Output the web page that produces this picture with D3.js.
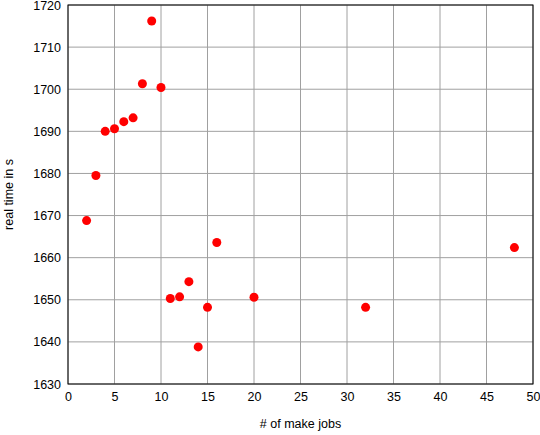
<!DOCTYPE html>
<html><head><meta charset="utf-8">
<script src="https://cdn.jsdelivr.net/npm/d3@7"></script>
<style>body{margin:0;background:#fff}text{font-family:"Liberation Sans",Arial,sans-serif}</style>
</head><body><svg id="c" width="540" height="435"></svg>
<script>
const jobs=[2,3,4,5,6,7,8,9,10,11,12,13,14,15,16,20,32,48];
const times=[1668.8,1679.5,1690,1690.6,1692.3,1693.2,1701.3,1716.2,1700.4,1650.3,1650.7,1654.3,1638.8,1648.2,1663.6,1650.6,1648.2,1662.4];
const xTicks=d3.range(0,51,5);
const yTicks=d3.range(1630,1721,10);
const svg=d3.select("#c");
const L=68,R=533,T=5,B=384;
const x=d3.scaleLinear().domain([0,50]).range([L,R]);
const y=d3.scaleLinear().domain([1630,1720]).range([B,T]);
const g=svg.append("g");
g.selectAll(".gx").data(xTicks).join("line").attr("x1",d=>x(d)).attr("x2",d=>x(d)).attr("y1",T).attr("y2",B).attr("stroke","#a0a0a0");
g.selectAll(".gy").data(yTicks).join("line").attr("y1",d=>y(d)).attr("y2",d=>y(d)).attr("x1",L).attr("x2",R).attr("stroke","#a0a0a0");
svg.append("g").attr("transform",`translate(0,${B})`).call(d3.axisBottom(x).tickValues(xTicks).tickFormat(d3.format("d")).tickSize(0).tickPadding(8)).call(a=>{a.select(".domain").remove();a.selectAll("text").attr("font-size",12.5).attr("fill","#000")});
svg.append("g").attr("transform",`translate(${L},0)`).call(d3.axisLeft(y).tickValues(yTicks).tickFormat(d3.format("d")).tickSize(0).tickPadding(7)).call(a=>{a.select(".domain").remove();a.selectAll("text").attr("font-size",12.5).attr("fill","#000")});
svg.append("rect").attr("x",L).attr("y",T).attr("width",R-L).attr("height",B-T).attr("fill","none").attr("stroke","#000");
svg.selectAll(".p").data(jobs).join("circle").attr("cx",d=>x(d)).attr("cy",(d,i)=>y(times[i])).attr("r",4.5).attr("fill","#ff0000");
svg.append("text").attr("x",(L+R)/2).attr("y",428).attr("text-anchor","middle").attr("font-size",12.5).text("# of make jobs");
svg.append("text").attr("transform",`translate(13,${(T+B)/2}) rotate(-90)`).attr("text-anchor","middle").attr("font-size",12.5).text("real time in s");
</script></body></html>
